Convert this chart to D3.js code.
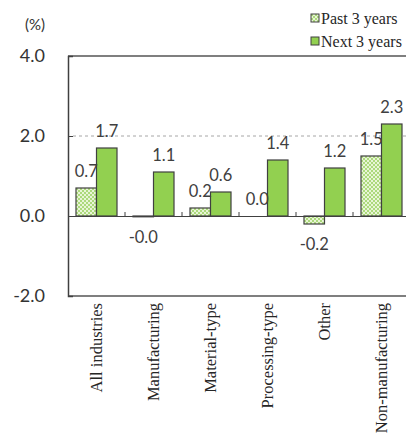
<!DOCTYPE html>
<html>
<head>
<meta charset="utf-8">
<script src="https://cdn.jsdelivr.net/npm/d3@7"></script>
<style>
  html, body { margin: 0; padding: 0; background: #fff; }
  svg { display: block; }
</style>
</head>
<body>
<svg id="chart" width="406" height="433"></svg>
<script>
// Industry groups along the horizontal axis
const categories = ["All industries", "Manufacturing", "Material-type", "Processing-type", "Other", "Non-manufacturing"];
// Series names, as shown in the legend
const seriesNames = ["Past 3 years", "Next 3 years"];
// Annual averages (%)
const pastValues = [0.7, -0.02, 0.2, 0.0, -0.2, 1.5];
const nextValues = [1.7, 1.1, 0.6, 1.4, 1.2, 2.3];
// Vertical axis ticks
const yTicks = [-2, 0, 2, 4];

const svg = d3.select("#chart");
const numFont = "Lato, 'Noto Sans', sans-serif";
const serifFont = "'Liberation Serif', 'DejaVu Serif', serif";

// Checkered fill for the "Past 3 years" bars
const defs = svg.append("defs");
const pat = defs.append("pattern")
  .attr("id", "checker")
  .attr("patternUnits", "userSpaceOnUse")
  .attr("width", 4).attr("height", 4);
pat.append("rect").attr("width", 4).attr("height", 4).attr("fill", "#e8f5d6");
pat.append("rect").attr("width", 2).attr("height", 2).attr("fill", "#acd97c");
pat.append("rect").attr("x", 2).attr("y", 2).attr("width", 2).attr("height", 2).attr("fill", "#acd97c");

const fills = ["url(#checker)", "#92d050"];

const plot = { left: 68, right: 410, top: 56, bottom: 296 };

const x = d3.scaleBand().domain(categories).range([plot.left, plot.right]).padding(0);
const xSub = d3.scaleBand().domain(seriesNames).range([0, x.bandwidth()])
  .paddingInner(0).paddingOuter(0.39);
const y = d3.scaleLinear().domain([-2, 4]).range([plot.bottom, plot.top]);

// Plot frame (top and bottom edges)
svg.append("line")
  .attr("x1", plot.left).attr("x2", plot.right)
  .attr("y1", y(4)).attr("y2", y(4))
  .attr("stroke", "#7f7f7f").attr("stroke-width", 2);
svg.append("line")
  .attr("x1", plot.left).attr("x2", plot.right)
  .attr("y1", y(-2)).attr("y2", y(-2))
  .attr("stroke", "#7f7f7f").attr("stroke-width", 2);

// Dashed reference line at 2.0
svg.append("line")
  .attr("x1", plot.left + 5).attr("x2", plot.right)
  .attr("y1", y(2)).attr("y2", y(2))
  .attr("stroke", "#a6a6a6").attr("stroke-width", 1)
  .attr("stroke-dasharray", "3,3");

// Left axis with inward ticks
const yAxis = d3.axisRight(y).tickValues(yTicks).tickSize(5).tickFormat("");
const yAxisG = svg.append("g").attr("transform", `translate(${plot.left},0)`).call(yAxis);
yAxisG.select(".domain").attr("stroke", "#404040").attr("stroke-width", 1.5);
yAxisG.selectAll(".tick line").attr("stroke", "#404040").attr("stroke-width", 1);

// Tick labels on the left
svg.append("g").selectAll("text")
  .data(yTicks)
  .join("text")
  .attr("x", 45)
  .attr("y", d => y(d))
  .attr("dy", "0.36em")
  .attr("text-anchor", "end")
  .attr("font-family", numFont)
  .attr("font-size", 18)
  .attr("fill", "#333")
  .text(d => d.toFixed(1));

svg.append("text")
  .attr("x", 35).attr("y", 25).attr("dy", "0.36em")
  .attr("text-anchor", "middle")
  .attr("font-family", numFont)
  .attr("font-size", 15)
  .attr("fill", "#333")
  .text("(%)");

// Bars
const rows = categories.map((c, i) => ({ cat: c, values: [pastValues[i], nextValues[i]] }));
const groups = svg.append("g").selectAll("g")
  .data(rows)
  .join("g")
  .attr("transform", d => `translate(${x(d.cat)},0)`);

groups.selectAll("rect")
  .data(d => d.values.map((v, k) => ({ v, k })))
  .join("rect")
  .attr("x", d => xSub(seriesNames[d.k]))
  .attr("width", xSub.bandwidth())
  .attr("y", d => y(Math.max(0, d.v)))
  .attr("height", d => Math.abs(y(d.v) - y(0)))
  .attr("fill", d => fills[d.k])
  .attr("stroke", d => d.v === 0 ? "none" : "#404040")
  .attr("stroke-width", 1.2);

// Value labels
groups.selectAll("text")
  .data(d => d.values.map((v, k) => ({ v, k })))
  .join("text")
  .attr("x", d => xSub(seriesNames[d.k]) + xSub.bandwidth() / 2)
  .attr("y", d => d.v < 0 ? y(d.v) + 20 : y(d.v) - 17)
  .attr("dy", "0.36em")
  .attr("text-anchor", "middle")
  .attr("font-family", numFont)
  .attr("font-size", 16.5)
  .attr("fill", "#404040")
  .text(d => d.v.toFixed(1));

// Zero line with category separators
const xAxis = d3.axisTop(x).tickSize(0).tickFormat("");
const xAxisG = svg.append("g").attr("transform", `translate(0,${y(0)})`).call(xAxis);
xAxisG.select(".domain").attr("stroke", "#404040").attr("stroke-width", 1.2);
const bounds = categories.slice(1).map(c => x(c));
svg.append("g").selectAll("line")
  .data(bounds)
  .join("line")
  .attr("x1", d => d).attr("x2", d => d)
  .attr("y1", y(0)).attr("y2", y(0) - 4)
  .attr("stroke", "#404040").attr("stroke-width", 1);

// Category labels, rotated
svg.append("g").selectAll("text")
  .data(categories)
  .join("text")
  .attr("transform", d => `translate(${x(d) + x.bandwidth() / 2},303) rotate(-90)`)
  .attr("dy", "0.35em")
  .attr("text-anchor", "end")
  .attr("font-family", serifFont)
  .attr("font-size", 16.5)
  .attr("fill", "#262626")
  .text(d => d);

// Legend
const legend = svg.append("g").selectAll("g")
  .data(seriesNames)
  .join("g")
  .attr("transform", (d, i) => `translate(311,${18 + i * 23})`);
legend.append("rect")
  .attr("x", 0).attr("y", -4)
  .attr("width", 8).attr("height", 8)
  .attr("fill", (d, i) => fills[i])
  .attr("stroke", "#404040").attr("stroke-width", 1);
legend.append("text")
  .attr("x", 10).attr("y", 0).attr("dy", "0.35em")
  .attr("font-family", serifFont)
  .attr("font-size", 16)
  .attr("fill", "#262626")
  .text(d => d);
</script>
</body>
</html>
